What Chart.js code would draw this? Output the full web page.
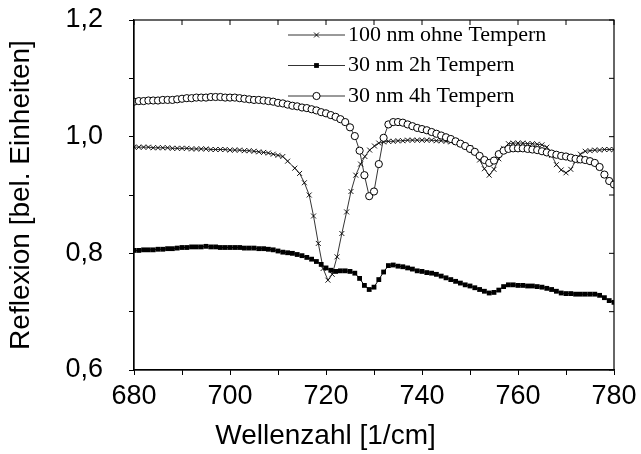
<!DOCTYPE html>
<html lang="de">
<head>
<meta charset="utf-8">
<title>Reflexion</title>
<script src="https://cdn.jsdelivr.net/npm/chart.js@4.4.1/dist/chart.umd.min.js"></script>
<style>
    html, body { margin: 0; padding: 0; background: #fff; }
</style>
</head>
<body>
<canvas id="reflexChart" width="641" height="454"></canvas>
<script>
// Wellenzahlen (1/cm) fuer die Proben mit 30 nm
const wellenzahl = [680, 681, 682, 683, 684, 685, 686, 687, 688, 689, 690, 691, 692, 693, 694, 695, 696, 697, 698, 699,
    700, 701, 702, 703, 704, 705, 706, 707, 708, 709, 710, 711, 712, 713, 714, 715, 716, 717, 718, 719,
    720, 721, 722, 723, 724, 725, 726, 727, 728, 729, 730, 731, 732, 733, 734, 735, 736, 737, 738, 739,
    740, 741, 742, 743, 744, 745, 746, 747, 748, 749, 750, 751, 752, 753, 754, 755, 756, 757, 758, 759,
    760, 761, 762, 763, 764, 765, 766, 767, 768, 769, 770, 771, 772, 773, 774, 775, 776, 777, 778, 779, 780];

// 30 nm 2h Tempern
const reflex2h = [0.805, 0.805, 0.806, 0.806, 0.806, 0.807, 0.807, 0.808, 0.808, 0.809, 0.810, 0.810, 0.811, 0.811, 0.811, 0.812, 0.811, 0.811, 0.810, 0.810,
    0.810, 0.810, 0.810, 0.809, 0.809, 0.809, 0.808, 0.808, 0.807, 0.806, 0.804, 0.802, 0.801, 0.800, 0.798, 0.796, 0.793, 0.790, 0.786, 0.781,
    0.775, 0.771, 0.769, 0.770, 0.770, 0.769, 0.766, 0.757, 0.745, 0.738, 0.742, 0.755, 0.768, 0.779, 0.780, 0.778, 0.777, 0.775, 0.773, 0.770,
    0.769, 0.767, 0.766, 0.764, 0.761, 0.758, 0.755, 0.752, 0.749, 0.746, 0.744, 0.741, 0.738, 0.735, 0.732, 0.733, 0.737, 0.743, 0.746, 0.746,
    0.745, 0.745, 0.744, 0.744, 0.743, 0.742, 0.740, 0.738, 0.735, 0.732, 0.731, 0.731, 0.730, 0.730, 0.730, 0.730, 0.730, 0.728, 0.724, 0.719, 0.716];

// 30 nm 4h Tempern
const reflex4h = [1.060, 1.061, 1.061, 1.062, 1.062, 1.062, 1.063, 1.063, 1.063, 1.064, 1.065, 1.066, 1.066, 1.067, 1.067, 1.067, 1.068, 1.068, 1.068, 1.067,
    1.067, 1.067, 1.066, 1.065, 1.064, 1.063, 1.063, 1.062, 1.061, 1.060, 1.058, 1.057, 1.055, 1.053, 1.052, 1.050, 1.049, 1.047, 1.045, 1.042,
    1.040, 1.037, 1.034, 1.030, 1.025, 1.016, 1.001, 0.976, 0.934, 0.898, 0.906, 0.953, 0.998, 1.021, 1.025, 1.025, 1.024, 1.021, 1.018, 1.015,
    1.013, 1.011, 1.008, 1.005, 1.002, 0.999, 0.996, 0.992, 0.988, 0.984, 0.979, 0.974, 0.967, 0.960, 0.955, 0.959, 0.970, 0.976, 0.979, 0.980,
    0.980, 0.980, 0.979, 0.978, 0.977, 0.975, 0.973, 0.971, 0.969, 0.967, 0.966, 0.964, 0.962, 0.961, 0.960, 0.958, 0.955, 0.948, 0.935, 0.924, 0.918];

// 100 nm ohne Tempern (eigene Messpunkte)
const wellenzahl100 = [680, 681, 682, 683, 684, 685, 686, 687, 688, 689, 690, 691, 692, 693, 694, 695, 696, 697, 698, 699,
    700, 701, 702, 703, 704, 705, 706, 707, 708, 709, 710, 711, 712, 713.5, 714.5, 715.5, 716.5, 717.4, 718.4, 719.4,
    720.4, 721.3, 722.3, 723.3, 724.3, 725.2, 726.2, 727.2, 728.1, 729.1, 730.1, 731, 732, 733, 734, 735, 736, 737, 738, 739,
    740, 741, 742, 743, 744, 745, 746, 747, 748, 749, 750, 751, 752, 753, 754, 755, 756, 757, 758, 759,
    760, 761, 762, 763, 764, 765, 766, 767, 768, 769, 770, 771, 772, 773, 774, 775, 776, 777, 778, 779, 780];
const reflex100 = [0.982, 0.982, 0.982, 0.982, 0.981, 0.981, 0.981, 0.981, 0.980, 0.980, 0.980, 0.980, 0.979, 0.979, 0.979, 0.979, 0.978, 0.978, 0.978, 0.978,
    0.977, 0.977, 0.977, 0.976, 0.976, 0.975, 0.974, 0.973, 0.972, 0.970, 0.968, 0.966, 0.958, 0.946, 0.937, 0.921, 0.900, 0.864, 0.817, 0.774,
    0.754, 0.764, 0.794, 0.834, 0.871, 0.906, 0.934, 0.953, 0.966, 0.977, 0.984, 0.989, 0.991, 0.992, 0.992, 0.993, 0.993, 0.994, 0.994, 0.994,
    0.994, 0.994, 0.994, 0.993, 0.993, 0.992, 0.991, 0.990, 0.988, 0.985, 0.981, 0.974, 0.960, 0.945, 0.934, 0.944, 0.962, 0.980, 0.988, 0.989,
    0.989, 0.989, 0.988, 0.988, 0.987, 0.986, 0.982, 0.968, 0.952, 0.943, 0.938, 0.944, 0.958, 0.970, 0.975, 0.976, 0.977, 0.977, 0.978, 0.978, 0.978];

const reihenNamen = ['100 nm ohne Tempern', '30 nm 2h Tempern', '30 nm 4h Tempern'];
const xTicks = [680, 700, 720, 740, 760, 780];
const yTicks = [0.6, 0.8, 1.0, 1.2];
const xTitel = 'Wellenzahl [1/cm]';
const yTitel = 'Reflexion [bel. Einheiten]';

function punkte(xs, ys) {
    return xs.map((x, i) => ({ x: x, y: ys[i] }));
}

function komma(v) {
    return v.toFixed(1).replace('.', ',');
}

const SANS = "'Liberation Sans', Arial, sans-serif";
const SERIF = "'Liberation Serif', 'Times New Roman', serif";

// Legende im Diagramm: Linie - Symbol - Linie, dann Text
const legendeInnen = {
    id: 'legendeInnen',
    afterDraw(chart) {
        const { ctx, chartArea } = chart;
        const x0 = chartArea.left + 154;
        const x1 = x0 + 57;
        chart.data.datasets.forEach((ds, i) => {
            const y = chartArea.top + 15 + i * 30.5;
            ctx.save();
            ctx.strokeStyle = '#000';
            ctx.lineWidth = 0.8;
            ctx.beginPath();
            ctx.moveTo(x0, y);
            ctx.lineTo(x1, y);
            ctx.stroke();
            ctx.fillStyle = ds.pointBackgroundColor;
            ctx.strokeStyle = '#000';
            ctx.lineWidth = ds.pointBorderWidth;
            Chart.helpers.drawPoint(ctx, {
                pointStyle: ds.pointStyle,
                radius: ds.pointRadius,
                borderWidth: ds.pointBorderWidth,
                rotation: 0
            }, (x0 + x1) / 2, y);
            ctx.fillStyle = '#000';
            ctx.font = '22px ' + SERIF;
            ctx.textBaseline = 'middle';
            ctx.textAlign = 'left';
            ctx.fillText(ds.label, x1 + 3, y);
            ctx.restore();
        });
    }
};

// Rahmen oben/rechts mit nach innen zeigenden Ticks, x-Titel mittig im Bild
const rahmen = {
    id: 'rahmen',
    afterDatasetsDraw(chart) {
        const { ctx, chartArea, scales } = chart;
        ctx.save();
        ctx.strokeStyle = '#000';
        ctx.lineWidth = 1.2;
        ctx.strokeRect(chartArea.left, chartArea.top, chartArea.right - chartArea.left, chartArea.bottom - chartArea.top);
        ctx.lineWidth = 1;
        ctx.beginPath();
        scales.x.ticks.forEach(t => {
            const px = scales.x.getPixelForValue(t.value);
            ctx.moveTo(px, chartArea.top);
            ctx.lineTo(px, chartArea.top + 5);
        });
        scales.y.ticks.forEach(t => {
            const py = scales.y.getPixelForValue(t.value);
            ctx.moveTo(chartArea.right, py);
            ctx.lineTo(chartArea.right - 5, py);
        });
        ctx.stroke();
        ctx.fillStyle = '#000';
        ctx.font = '28px ' + SANS;
        ctx.textAlign = 'center';
        ctx.textBaseline = 'middle';
        ctx.fillText(xTitel, chart.width / 2 + 5, chart.height - 18);
        ctx.restore();
    }
};

const ctx = document.getElementById('reflexChart');
new Chart(ctx, {
    type: 'line',
    data: {
        datasets: [{
            label: reihenNamen[0],
            data: punkte(wellenzahl100, reflex100),
            borderColor: '#000',
            borderWidth: 0.8,
            pointStyle: 'crossRot',
            pointRadius: 3.5,
            pointBorderWidth: 0.9,
            pointBorderColor: '#000',
            pointBackgroundColor: '#000',
            tension: 0,
            order: 2
        }, {
            label: reihenNamen[1],
            data: punkte(wellenzahl, reflex2h),
            borderColor: '#000',
            borderWidth: 1,
            pointStyle: 'rect',
            pointRadius: 3.4,
            pointBorderWidth: 0,
            pointBorderColor: '#000',
            pointBackgroundColor: '#000',
            tension: 0,
            order: 3
        }, {
            label: reihenNamen[2],
            data: punkte(wellenzahl, reflex4h),
            borderColor: '#000',
            borderWidth: 0.8,
            pointStyle: 'circle',
            pointRadius: 3.6,
            pointBorderWidth: 1,
            pointBorderColor: '#000',
            pointBackgroundColor: '#fff',
            tension: 0,
            order: 1
        }]
    },
    options: {
        responsive: false,
        animation: false,
        events: [],
        layout: { padding: { top: 20, right: 27, left: 0, bottom: 0 } },
        plugins: {
            legend: { display: false },
            tooltip: { enabled: false }
        },
        scales: {
            x: {
                type: 'linear',
                position: 'bottom',
                min: 680,
                max: 780,
                afterFit: s => { s.height = 84; s.paddingLeft = 0; s.paddingRight = 0; },
                ticks: {
                    stepSize: 10,
                    autoSkip: false,
                    maxRotation: 0,
                    padding: 5,
                    color: '#000',
                    font: { family: SANS, size: 27 },
                    callback: v => xTicks.includes(v) ? String(v) : ''
                },
                grid: { drawOnChartArea: false, drawTicks: true, tickLength: 5, color: '#000', lineWidth: 1 },
                border: { display: true, color: '#000', width: 1.2 }
            },
            y: {
                min: 0.6,
                max: 1.2,
                afterFit: s => { s.width = 134; s.paddingTop = 0; s.paddingBottom = 0; },
                ticks: {
                    stepSize: 0.1,
                    padding: 26,
                    color: '#000',
                    font: { family: SANS, size: 27 },
                    callback: v => yTicks.some(t => Math.abs(t - v) < 1e-6) ? komma(v) : ''
                },
                grid: { drawOnChartArea: false, drawTicks: true, tickLength: 5, color: '#000', lineWidth: 1 },
                border: { display: true, color: '#000', width: 1.2 },
                title: {
                    display: true,
                    text: yTitel,
                    color: '#000',
                    font: { family: SANS, size: 28 },
                    padding: { top: 4, bottom: 0 }
                }
            }
        }
    },
    plugins: [rahmen, legendeInnen]
});
</script>
</body>
</html>
